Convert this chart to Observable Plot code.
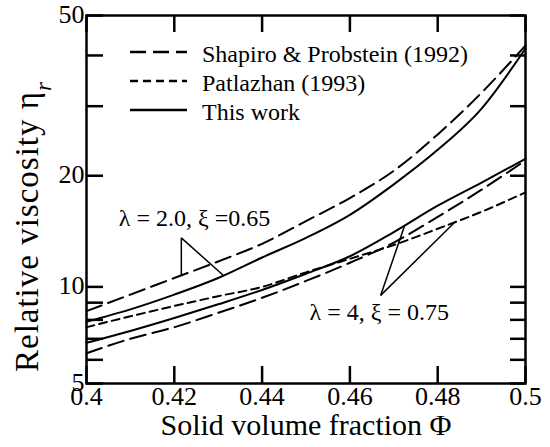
<!DOCTYPE html>
<html>
<head>
<meta charset="utf-8">
<script src="https://cdn.jsdelivr.net/npm/d3@7"></script>
<script src="https://cdn.jsdelivr.net/npm/@observablehq/plot@0.6"></script>
<style>
  body { margin: 0; background: #fff; }
  #chart { position: relative; width: 550px; height: 447px; }
  #chart svg { display: block; }
</style>
</head>
<body>
<div id="chart"></div>
<script>
// ---- data ----
const phi = [0.40, 0.41, 0.42, 0.43, 0.44, 0.45, 0.46, 0.47, 0.48, 0.49, 0.50];
// lambda = 2.0, xi = 0.65
const shapiroL2  = [8.5, 9.5, 10.6, 11.8, 13.2, 15.2, 17.5, 20.6, 25.5, 32.4, 42.3];
const thisWorkL2 = [7.9, 8.6, 9.5, 10.6, 12.1, 13.7, 15.8, 19.0, 23.3, 29.6, 41.6];
// lambda = 4, xi = 0.75
const shapiroL4   = [6.3, 7.0, 7.6, 8.4, 9.3, 10.4, 11.7, 13.3, 15.6, 18.4, 21.9];
const patlazhanL4 = [7.6, 8.2, 8.8, 9.4, 10.0, 11.0, 12.0, 13.1, 14.5, 16.1, 18.1];
const thisWorkL4  = [6.8, 7.4, 8.1, 8.9, 9.8, 10.9, 12.2, 14.2, 16.7, 19.2, 22.1];

const yTicks = [5, 10, 20, 50];
const yMinorTicks = [6, 7, 8, 9, 30, 40];
const xTicks = [0.4, 0.42, 0.44, 0.46, 0.48, 0.5];
const xTickLabels = ["0.4", "0.42", "0.44", "0.46", "0.48", "0.5"];

const xTitle = "Solid volume fraction \u03A6";
const yTitle = "Relative viscosity \u03B7";
const legendLabels = ["Shapiro & Probstein (1992)", "Patlazhan (1993)", "This work"];

// annotations: label position, pointer apex, and the curves they point at
const annotations = [
  {text: "\u03BB = 2.0, \u03BE =0.65", x: 0.4246, y: 15.5, apex: [0.4216, 13.7],
   targets: [["shapiroL2", 0.4216], ["thisWorkL2", 0.4312]]},
  {text: "\u03BB = 4, \u03BE = 0.75", x: 0.4667, y: 8.4, apex: [0.4670, 9.45],
   targets: [["thisWorkL4", 0.4725], ["patlazhanL4", 0.4840]]}
];

// ---- build tables ----
const series = {
  shapiroL2:  {model: "shapiro",  values: shapiroL2},
  thisWorkL2: {model: "thiswork", values: thisWorkL2},
  shapiroL4:  {model: "shapiro",  values: shapiroL4},
  patlazhanL4:{model: "patlazhan",values: patlazhanL4},
  thisWorkL4: {model: "thiswork", values: thisWorkL4}
};
const rows = [];
for (const [id, s] of Object.entries(series)) {
  s.values.forEach((v, i) => rows.push({id, model: s.model, phi: phi[i], eta: v}));
}
function valueAt(arr, p) {
  let i = 0;
  while (i < phi.length - 2 && p > phi[i + 1]) i++;
  const t = (p - phi[i]) / (phi[i + 1] - phi[i]);
  return arr[i] + t * (arr[i + 1] - arr[i]);
}
const legs = [];
for (const a of annotations) {
  for (const [id, p] of a.targets) {
    legs.push({x1: a.apex[0], y1: a.apex[1], x2: p, y2: valueAt(series[id].values, p)});
  }
}

const longDash = "16,7";
const shortDash = "8,5";
const dashFor = {shapiro: longDash, patlazhan: shortDash, thiswork: null};
const serif = "'Liberation Serif', 'Times New Roman', serif";
const tw = 2.5; // tick / frame stroke width

const W = 550, H = 447, mL = 86, mR = 25, mT = 15, mB = 64;
const frameW = W - mL - mR, frameH = H - mT - mB;
const majorLen = 17, minorLen = 15;

const plot = Plot.plot({
  width: W,
  height: H,
  marginLeft: mL,
  marginRight: mR,
  marginTop: mT,
  marginBottom: mB,
  style: {fontFamily: serif, fontSize: "26px", color: "black", background: "white", overflow: "visible"},
  x: {domain: [0.4, 0.5]},
  y: {type: "symlog", constant: 2.5, domain: [5, 50]},
  marks: [
    ...["shapiro", "patlazhan", "thiswork"].map(m =>
      Plot.line(rows.filter(r => r.model === m), {
        x: "phi", y: "eta", z: "id", curve: "monotone-x",
        stroke: "black", strokeWidth: 2, strokeDasharray: dashFor[m]
      })
    ),
    Plot.link(legs, {x1: "x1", y1: "y1", x2: "x2", y2: "y2", stroke: "black", strokeWidth: 1.5}),
    Plot.text(annotations, {x: "x", y: "y", text: "text", fontSize: 24, fontFamily: serif,
      textAnchor: "middle", lineAnchor: "middle", fill: "black"}),
    // inward ticks on all four sides
    Plot.tickY(yTicks.concat(yMinorTicks), {y: d => d, insetRight: frameW - majorLen, stroke: "black", strokeWidth: tw}),
    Plot.tickY(yTicks.concat(yMinorTicks), {y: d => d, insetLeft: frameW - minorLen, stroke: "black", strokeWidth: tw}),
    Plot.tickX(xTicks, {x: d => d, insetTop: frameH - majorLen, stroke: "black", strokeWidth: tw}),
    Plot.tickX(xTicks, {x: d => d, insetBottom: frameH - majorLen, stroke: "black", strokeWidth: tw}),
    // tick labels
    Plot.axisY(yTicks, {anchor: "left", tickSize: 0, tickPadding: 2, dy: -1, fontFamily: serif, label: null}),
    Plot.axisX(xTicks, {anchor: "bottom", tickSize: 0, tickPadding: 3, fontFamily: serif,
      tickFormat: d => xTickLabels[xTicks.indexOf(d)], label: null}),
    Plot.frame({stroke: "black", strokeWidth: tw}),
    Plot.text([xTitle], {frameAnchor: "bottom", dy: 42, fontSize: 30, fontFamily: serif,
      textAnchor: "middle", lineAnchor: "middle", fill: "black"}),
    Plot.text([yTitle], {frameAnchor: "left", rotate: -90, dx: -59, dy: 27, fontSize: 33, fontFamily: serif,
      textAnchor: "middle", lineAnchor: "middle", fill: "black"})
  ]
});
plot.setAttribute("font-family", serif);

// subscript r on the y title
d3.select(plot).selectAll("text")
  .filter(function () { return this.textContent === yTitle; })
  .attr("letter-spacing", 1)
  .append("tspan").attr("baseline-shift", "sub").attr("font-size", "0.7em")
  .attr("font-style", "italic").text("r");

// legend inside the frame (top-left)
const legendItems = legendLabels.map((label, i) => ({label, dash: [longDash, shortDash, null][i]}));
const lg = d3.select(plot).append("g").attr("font-family", serif).attr("font-size", 24);
const row = lg.selectAll("g").data(legendItems).join("g")
  .attr("transform", (d, i) => `translate(0,${52 + 29 * i})`);
row.append("line").attr("x1", 130).attr("x2", 187)
  .attr("stroke", "black").attr("stroke-width", 2.5)
  .attr("stroke-dasharray", d => d.dash);
row.append("text").attr("x", 202).attr("y", 10).attr("text-anchor", "start")
  .attr("fill", "black").text(d => d.label);

document.getElementById("chart").appendChild(plot);
</script>
</body>
</html>
